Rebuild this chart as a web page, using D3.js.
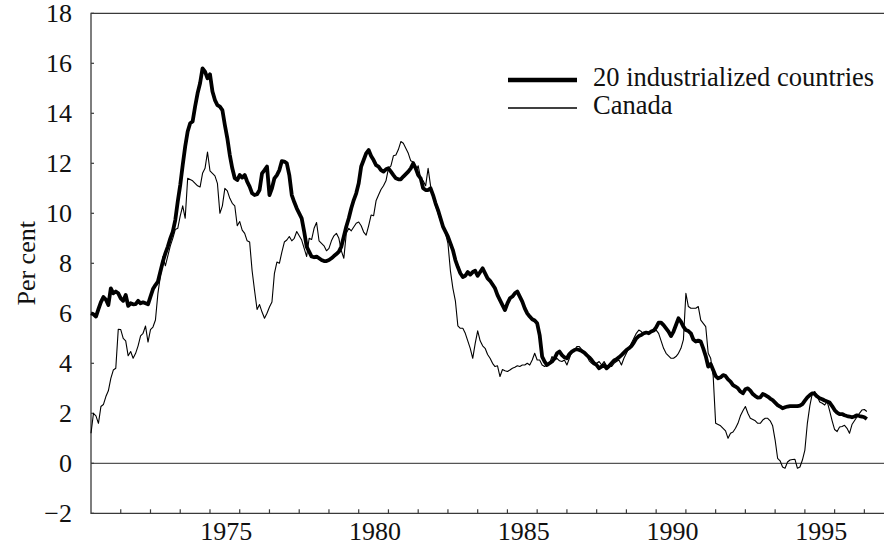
<!DOCTYPE html>
<html>
<head>
<meta charset="utf-8">
<script src="https://cdn.jsdelivr.net/npm/d3@7"></script>
<style>
	body { margin: 0; background: #fff; }
	text { font-family: "Liberation Serif", "Times New Roman", serif; fill: #111; }
</style>
</head>
<body>
<script>
// monthly values, first point = January 1971
var startYear = 1971;

var industrialValues = [
	6.0, 5.96, 5.87, 6.17, 6.45, 6.65, 6.55, 6.33, 7.0, 6.8, 6.87, 6.8,          // 1971
	6.6, 6.5, 6.73, 6.3, 6.4, 6.36, 6.37, 6.5, 6.4, 6.44, 6.4, 6.36,             // 1972
	6.67, 6.97, 7.13, 7.27, 7.67, 8.07, 8.4, 8.67, 9.0, 9.27, 9.73, 10.47,       // 1973
	11.13, 11.93, 12.67, 13.27, 13.6, 13.67, 14.27, 14.8, 15.2, 15.8, 15.67, 15.4, // 1974
	15.56, 14.87, 14.53, 14.33, 14.27, 14.13, 13.53, 13.0, 12.33, 11.8, 11.4, 11.33, // 1975
	11.53, 11.43, 11.53, 11.27, 11.07, 10.8, 10.73, 10.76, 10.93, 11.6, 11.73, 11.87, // 1976
	10.73, 11.0, 11.4, 11.53, 11.73, 12.09, 12.07, 12.0, 11.53, 10.73, 10.45, 10.2,  // 1977
	10.0, 9.8, 9.27, 8.67, 8.47, 8.27, 8.24, 8.27, 8.2, 8.13, 8.09, 8.09,         // 1978
	8.13, 8.2, 8.29, 8.37, 8.47, 8.67, 9.07, 9.47, 9.8, 10.2, 10.53, 10.8,       // 1979
	11.2, 11.87, 12.13, 12.4, 12.53, 12.29, 12.13, 11.93, 11.87, 11.73, 11.67, 11.76, // 1980
	11.8, 11.67, 11.53, 11.4, 11.36, 11.36, 11.47, 11.57, 11.67, 11.8, 12.0, 11.8, // 1981
	11.53, 11.4, 11.0, 10.93, 10.93, 11.0, 10.73, 10.4, 10.13, 9.8, 9.47, 9.27,   // 1982
	9.07, 8.8, 8.53, 8.13, 7.85, 7.6, 7.45, 7.5, 7.65, 7.55, 7.65, 7.7,          // 1983
	7.5, 7.65, 7.8, 7.6, 7.4, 7.3, 7.15, 7.0, 6.73, 6.53, 6.33, 6.13,            // 1984
	6.4, 6.6, 6.67, 6.8, 6.87, 6.67, 6.47, 6.2, 6.0, 5.87, 5.76, 5.71,           // 1985
	5.6, 5.13, 4.27, 4.07, 3.93, 4.0, 4.07, 4.2, 4.4, 4.47, 4.33, 4.24,          // 1986
	4.2, 4.37, 4.47, 4.53, 4.56, 4.53, 4.49, 4.43, 4.33, 4.24, 4.13, 4.0,        // 1987
	3.93, 3.8, 3.87, 3.93, 3.8, 3.89, 4.0, 4.11, 4.16, 4.24, 4.33, 4.43,         // 1988
	4.53, 4.6, 4.69, 4.83, 5.0, 5.09, 5.13, 5.2, 5.23, 5.2, 5.27, 5.31,          // 1989
	5.44, 5.63, 5.63, 5.53, 5.4, 5.27, 5.09, 5.27, 5.53, 5.8, 5.67, 5.47,        // 1990
	5.33, 5.29, 5.2, 4.95, 4.87, 4.91, 4.87, 4.6, 4.29, 3.87, 3.97, 3.73,        // 1991
	3.49, 3.4, 3.44, 3.53, 3.49, 3.36, 3.27, 3.13, 3.07, 3.0, 2.87, 2.8,         // 1992
	2.96, 3.0, 2.91, 2.77, 2.69, 2.63, 2.64, 2.77, 2.73, 2.67, 2.59, 2.53,       // 1993
	2.43, 2.33, 2.27, 2.2, 2.24, 2.27, 2.29, 2.29, 2.29, 2.29, 2.31, 2.37,       // 1994
	2.51, 2.64, 2.73, 2.8, 2.77, 2.67, 2.6, 2.56, 2.51, 2.47, 2.43, 2.29,        // 1995
	2.13, 2.03, 1.97, 1.97, 1.92, 1.89, 1.87, 1.84, 1.87, 1.92, 1.89, 1.87,      // 1996
	1.84, 1.77                                                                   // 1997
];

var canadaValues = [
	1.2, 2.0, 1.9, 1.6, 2.27, 2.35, 2.67, 2.9, 3.4, 3.73, 3.8, 5.36,             // 1971
	5.35, 5.0, 4.9, 4.3, 4.47, 4.2, 4.4, 4.7, 5.1, 5.2, 5.49, 4.85,              // 1972
	5.35, 5.45, 5.73, 6.8, 7.5, 8.27, 7.9, 8.3, 8.7, 9.0, 9.35, 9.4,             // 1973
	9.9, 10.3, 9.8, 11.4, 11.35, 11.3, 11.2, 11.1, 11.05, 11.6, 11.8, 12.45,     // 1974
	11.7, 11.6, 11.5, 11.2, 10.0, 10.3, 11.0, 10.9, 10.6, 10.4, 10.3, 9.5,       // 1975
	9.67, 9.33, 9.2, 8.9, 8.85, 7.7, 6.9, 6.15, 6.35, 6.05, 5.8, 6.0,            // 1976
	6.25, 6.45, 7.6, 8.05, 8.0, 8.45, 8.85, 8.93, 9.07, 8.9, 9.0, 9.27,          // 1977
	9.1, 8.93, 8.6, 8.27, 9.0, 8.95, 9.4, 9.63, 8.9, 8.8, 8.7, 8.5,              // 1978
	8.6, 8.9, 9.1, 9.2, 9.0, 8.5, 8.2, 9.2, 9.4, 9.3, 9.45, 9.6,                 // 1979
	9.65, 9.5, 9.25, 9.13, 9.5, 9.93, 9.9, 10.5, 10.73, 10.95, 11.1, 11.3,       // 1980
	11.8, 11.9, 12.3, 12.33, 12.55, 12.87, 12.8, 12.6, 12.4, 12.1, 12.05, 11.7,  // 1981
	11.9, 11.4, 11.3, 11.1, 11.8, 11.1, 10.7, 10.3, 10.0, 9.7, 9.45, 9.2,        // 1982
	8.8, 7.7, 7.0, 6.5, 5.5, 5.4, 5.4, 5.2, 4.9, 4.6, 4.2, 4.8,                  // 1983
	5.3, 4.9, 4.7, 4.6, 4.35, 4.2, 4.0, 3.87, 3.9, 3.47, 3.75, 3.7,              // 1984
	3.67, 3.73, 3.8, 3.84, 3.9, 3.87, 3.93, 3.93, 4.0, 3.93, 4.13, 4.4,          // 1985
	4.13, 4.13, 3.93, 3.87, 3.93, 4.0, 4.27, 4.13, 4.2, 4.1, 4.07, 4.13,         // 1986
	3.93, 4.2, 4.47, 4.5, 4.67, 4.67, 4.55, 4.4, 4.3, 4.1, 4.0, 3.93,            // 1987
	4.0, 4.07, 3.93, 4.07, 3.9, 3.93, 3.87, 4.0, 4.07, 4.13, 3.93, 4.2,          // 1988
	4.4, 4.6, 4.8, 5.0, 5.2, 5.33, 5.27, 5.15, 5.2, 5.25, 5.27, 5.27,            // 1989
	5.33, 5.2, 4.9, 4.6, 4.4, 4.3, 4.2, 4.2, 4.27, 4.4, 4.6, 4.95,               // 1990
	6.8, 6.27, 6.2, 6.2, 6.2, 6.27, 5.73, 5.6, 5.47, 4.4, 4.2, 3.5,              // 1991
	1.6, 1.55, 1.5, 1.4, 1.3, 1.0, 1.2, 1.25, 1.4, 1.6, 1.9, 2.1,                // 1992
	2.27, 2.0, 1.8, 1.75, 1.7, 1.6, 1.6, 1.73, 1.8, 1.8, 1.7, 1.5,               // 1993
	0.93, 0.2, 0.1, -0.15, -0.2, 0.05, 0.13, 0.15, 0.16, -0.2, -0.15, 0.13,      // 1994
	0.53, 1.6, 2.3, 2.8, 2.87, 2.67, 2.45, 2.4, 2.33, 2.47, 2.1, 1.7,            // 1995
	1.35, 1.27, 1.45, 1.47, 1.52, 1.4, 1.2, 1.55, 1.7, 1.85, 2.0, 2.13,          // 1996
	2.15, 2.07                                                                   // 1997
];

var yTicks = [-2, 0, 2, 4, 6, 8, 10, 12, 14, 16, 18];
var yearTicks = d3.range(1972, 1998);
var yearLabels = [1975, 1980, 1985, 1990, 1995];
var legendNames = ['20 industrialized countries', 'Canada'];

var width = 884, height = 548;
// plot edges (window.top is read-only, so no bare "top")
var plotLeft = 91, plotRight = 884, plotTop = 13.3, plotBottom = 513.3;

var svg = d3.select('body').append('svg')
	.attr('width', width)
	.attr('height', height);

var xScale = d3.scaleLinear().domain([1971, 1997.66]).range([plotLeft, plotRight]);
var yScale = d3.scaleLinear().domain([-2, 18]).range([plotBottom, plotTop]);

var axisColor = '#3a3a3a';

// zero line
svg.append('line')
	.attr('x1', plotLeft).attr('x2', plotRight)
	.attr('y1', yScale(0)).attr('y2', yScale(0))
	.attr('stroke', '#555').attr('stroke-width', 1.2);

// frame: top, left, bottom (no right edge)
svg.append('path')
	.attr('d', `M${plotRight},${plotTop} L${plotLeft},${plotTop} L${plotLeft},${plotBottom} L${plotRight},${plotBottom}`)
	.attr('fill', 'none')
	.attr('stroke', axisColor)
	.attr('stroke-width', 1.3);

// year ticks point up into the plot
svg.selectAll('.xtick')
	.data(yearTicks)
	.enter().append('line')
	.attr('class', 'xtick')
	.attr('x1', d => xScale(d)).attr('x2', d => xScale(d))
	.attr('y1', plotBottom).attr('y2', plotBottom - 4)
	.attr('stroke', axisColor).attr('stroke-width', 1.2);

// labels sit in the middle of the year
svg.selectAll('.xlabel')
	.data(yearLabels)
	.enter().append('text')
	.attr('class', 'xlabel')
	.attr('x', d => xScale(d + 0.55))
	.attr('y', 540)
	.attr('text-anchor', 'middle')
	.attr('font-size', 26)
	.text(d => d);

svg.selectAll('.ytick')
	.data(yTicks)
	.enter().append('line')
	.attr('class', 'ytick')
	.attr('x1', plotLeft).attr('x2', plotLeft + 3)
	.attr('y1', d => yScale(d)).attr('y2', d => yScale(d))
	.attr('stroke', axisColor).attr('stroke-width', 1.2);

svg.selectAll('.ylabel')
	.data(yTicks)
	.enter().append('text')
	.attr('class', 'ylabel')
	.attr('x', 72)
	.attr('y', d => yScale(d))
	.attr('dy', '0.34em')
	.attr('text-anchor', 'end')
	.attr('font-size', 26)
	.text(d => d < 0 ? '\u2212' + Math.abs(d) : d);

svg.append('text')
	.attr('transform', `translate(35,${(plotTop + plotBottom) / 2}) rotate(-90)`)
	.attr('text-anchor', 'middle')
	.attr('font-size', 26)
	.text('Per cent');

var line = d3.line()
	.x((d, i) => xScale(startYear + i / 12))
	.y(d => yScale(d));

svg.append('path')
	.datum(canadaValues)
	.attr('d', line)
	.attr('fill', 'none')
	.attr('stroke', '#000')
	.attr('stroke-width', 1.1)
	.attr('stroke-linejoin', 'round');

svg.append('path')
	.datum(industrialValues)
	.attr('d', line)
	.attr('fill', 'none')
	.attr('stroke', '#000')
	.attr('stroke-width', 3.8)
	.attr('stroke-linejoin', 'round');

// legend
var legend = svg.append('g');
var legendRows = [
	{ name: legendNames[0], width: 4.5, y: 80 },
	{ name: legendNames[1], width: 1.3, y: 108 }
];
legendRows.forEach(function(d){
	legend.append('line')
		.attr('x1', 508).attr('x2', 577)
		.attr('y1', d.y).attr('y2', d.y)
		.attr('stroke', '#000')
		.attr('stroke-width', d.width);
	legend.append('text')
		.attr('x', 593)
		.attr('y', d.y + 6)
		.attr('font-size', 26.5)
		.text(d.name);
});
</script>
</body>
</html>
